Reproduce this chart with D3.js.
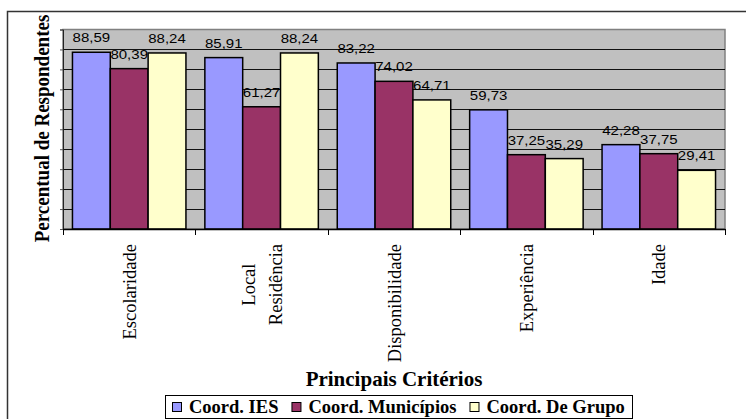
<!DOCTYPE html>
<html>
<head>
<meta charset="utf-8">
<title>Principais Critérios</title>
<script src="https://cdnjs.cloudflare.com/ajax/libs/d3/7.8.5/d3.min.js"></script>
<style>
  body { margin: 0; background: #fff; }
  svg { display: block; }
</style>
</head>
<body>
<svg id="svg"></svg>
<script>
var categories = ["Escolaridade", "Local\nResidência", "Disponibilidade", "Experiência", "Idade"];
var seriesNames = ["Coord. IES", "Coord. Municípios", "Coord. De Grupo"];
var coordIES = [88.59, 85.91, 83.22, 59.73, 42.28];
var coordMunicipios = [80.39, 61.27, 74.02, 37.25, 37.75];
var coordGrupo = [88.24, 88.24, 64.71, 35.29, 29.41];
var colors = ["#9999FF", "#993366", "#FFFFCC"];
var yTicks = [0, 10, 20, 30, 40, 50, 60, 70, 80, 90, 100];

var SERIF = "'Liberation Serif', 'Times New Roman', 'DejaVu Serif', serif";
var SANS = "'Liberation Sans', Arial, sans-serif";

var width = 746, height = 419;
var plot = {left: 63, right: 725, top: 29.5, bottom: 229};

var svg = d3.select("#svg").attr("width", width).attr("height", height);

// chart border
svg.append("rect")
  .attr("x", 7.5).attr("y", 11.5)
  .attr("width", 760).attr("height", 430)
  .attr("fill", "#fff").attr("stroke", "#333").attr("stroke-width", 1.5);

var x0 = d3.scaleBand().domain(categories).range([plot.left, plot.right]).paddingInner(0).paddingOuter(0);
// excel gap width 150% -> 1.5 bar widths of gap per category
var x1 = d3.scaleBand().domain(seriesNames).range([0, x0.bandwidth()]).paddingInner(0).paddingOuter(0.25);
var y = d3.scaleLinear().domain([0, 100]).range([plot.bottom, plot.top]);

// plot area
svg.append("rect")
  .attr("x", plot.left).attr("y", plot.top)
  .attr("width", plot.right - plot.left).attr("height", plot.bottom - plot.top)
  .attr("fill", "#C0C0C0").attr("stroke", "#808080").attr("stroke-width", 1.5);

// gridlines
svg.append("g").selectAll("line")
  .data(yTicks.filter(function(d) { return d > 0 && d < 100; }))
  .enter().append("line")
  .attr("x1", plot.left).attr("x2", plot.right)
  .attr("y1", function(d) { return Math.round(y(d)) + 0.5; })
  .attr("y2", function(d) { return Math.round(y(d)) + 0.5; })
  .attr("stroke", "#111").attr("stroke-width", 1);

// y axis (no labels)
var axisY = d3.axisLeft(y).tickValues(yTicks).tickSize(3).tickFormat("");
var gy = svg.append("g").attr("transform", "translate(" + plot.left + ",0)").call(axisY);
gy.select(".domain").attr("stroke", "#222");
gy.selectAll(".tick line").attr("stroke", "#555");

// bars
var seriesData = [coordIES, coordMunicipios, coordGrupo];
var barG = svg.append("g");
seriesData.forEach(function(vals, si) {
  barG.selectAll(".s" + si)
    .data(vals).enter().append("rect")
    .attr("class", "s" + si)
    .attr("x", function(d, i) { return x0(categories[i]) + x1(seriesNames[si]); })
    .attr("y", function(d) { return y(d); })
    .attr("width", x1.bandwidth())
    .attr("height", function(d) { return y(0) - y(d); })
    .attr("fill", colors[si])
    .attr("stroke", "#000").attr("stroke-width", 1.5);
});

// x axis
var axisX = d3.axisBottom(x0).tickSize(0).tickFormat("");
var gx = svg.append("g").attr("transform", "translate(0," + plot.bottom + ")").call(axisX);
gx.select(".domain").attr("stroke", "#000").attr("stroke-width", 1.5);
// category boundary ticks
var bounds = categories.map(function(c) { return x0(c); }).concat([plot.right]);
gx.selectAll(".bt").data(bounds).enter().append("line")
  .attr("x1", function(d) { return Math.round(d) + 0.5; })
  .attr("x2", function(d) { return Math.round(d) + 0.5; })
  .attr("y1", 0).attr("y2", 6)
  .attr("stroke", "#000").attr("stroke-width", 1);

// data labels
seriesData.forEach(function(vals, si) {
  svg.append("g").selectAll("text")
    .data(vals).enter().append("text")
    .style("font-family", SANS).style("font-size", "12px")
    .attr("text-anchor", "middle")
    .attr("transform", function(d, i) {
      var cx = x0(categories[i]) + x1(seriesNames[si]) + x1.bandwidth() / 2;
      return "translate(" + cx + "," + (y(d) - 10) + ") scale(1.25,1)";
    })
    .attr("fill", "#000")
    .text(function(d) { return d.toFixed(2).replace(".", ","); });
});

// category labels (rotated)
var catTop = 244, lineGap = 27;
categories.forEach(function(c) {
  var lines = c.split("\n");
  var cx = x0(c) + x0.bandwidth() / 2 + 6.5 - (lines.length - 1) * lineGap / 2;
  var g = svg.append("g");
  var texts = lines.map(function(l, li) {
    return g.append("text")
      .style("font-family", SERIF).style("font-size", "18.5px")
      .attr("text-anchor", "middle")
      .attr("fill", "#000")
      .attr("y", li * lineGap)
      .text(l);
  });
  var maxLen = d3.max(texts, function(t) { return t.node().getComputedTextLength(); });
  g.attr("transform", "translate(" + cx + "," + (catTop + maxLen / 2) + ") rotate(-90)");
});

// y axis title
svg.append("text")
  .style("font-family", SERIF).style("font-size", "19px").style("font-weight", "bold")
  .attr("text-anchor", "middle")
  .attr("transform", "translate(49,128.5) scale(1.15,1) rotate(-90)")
  .text("Percentual de Respondentes");

// x axis title
svg.append("text")
  .style("font-family", SERIF).style("font-size", "21px").style("font-weight", "bold")
  .attr("text-anchor", "middle")
  .attr("x", (plot.left + plot.right) / 2).attr("y", 386)
  .text("Principais Critérios");

// legend
var legend = svg.append("g");
legend.append("rect")
  .attr("x", 165.5).attr("y", 395.5).attr("width", 467).attr("height", 23)
  .attr("fill", "#fff").attr("stroke", "#000").attr("stroke-width", 1);
var lx = 172;
seriesNames.forEach(function(name, si) {
  legend.append("rect")
    .attr("x", lx + 0.5).attr("y", 402.5).attr("width", 9).attr("height", 9)
    .attr("fill", colors[si]).attr("stroke", "#000").attr("stroke-width", 1);
  var t = legend.append("text")
    .style("font-family", SERIF).style("font-size", "18.5px").style("font-weight", "bold")
    .attr("x", lx + 17).attr("y", 413)
    .attr("fill", "#000")
    .text(name);
  lx += 17 + t.node().getComputedTextLength() + 13;
});
</script>
</body>
</html>
